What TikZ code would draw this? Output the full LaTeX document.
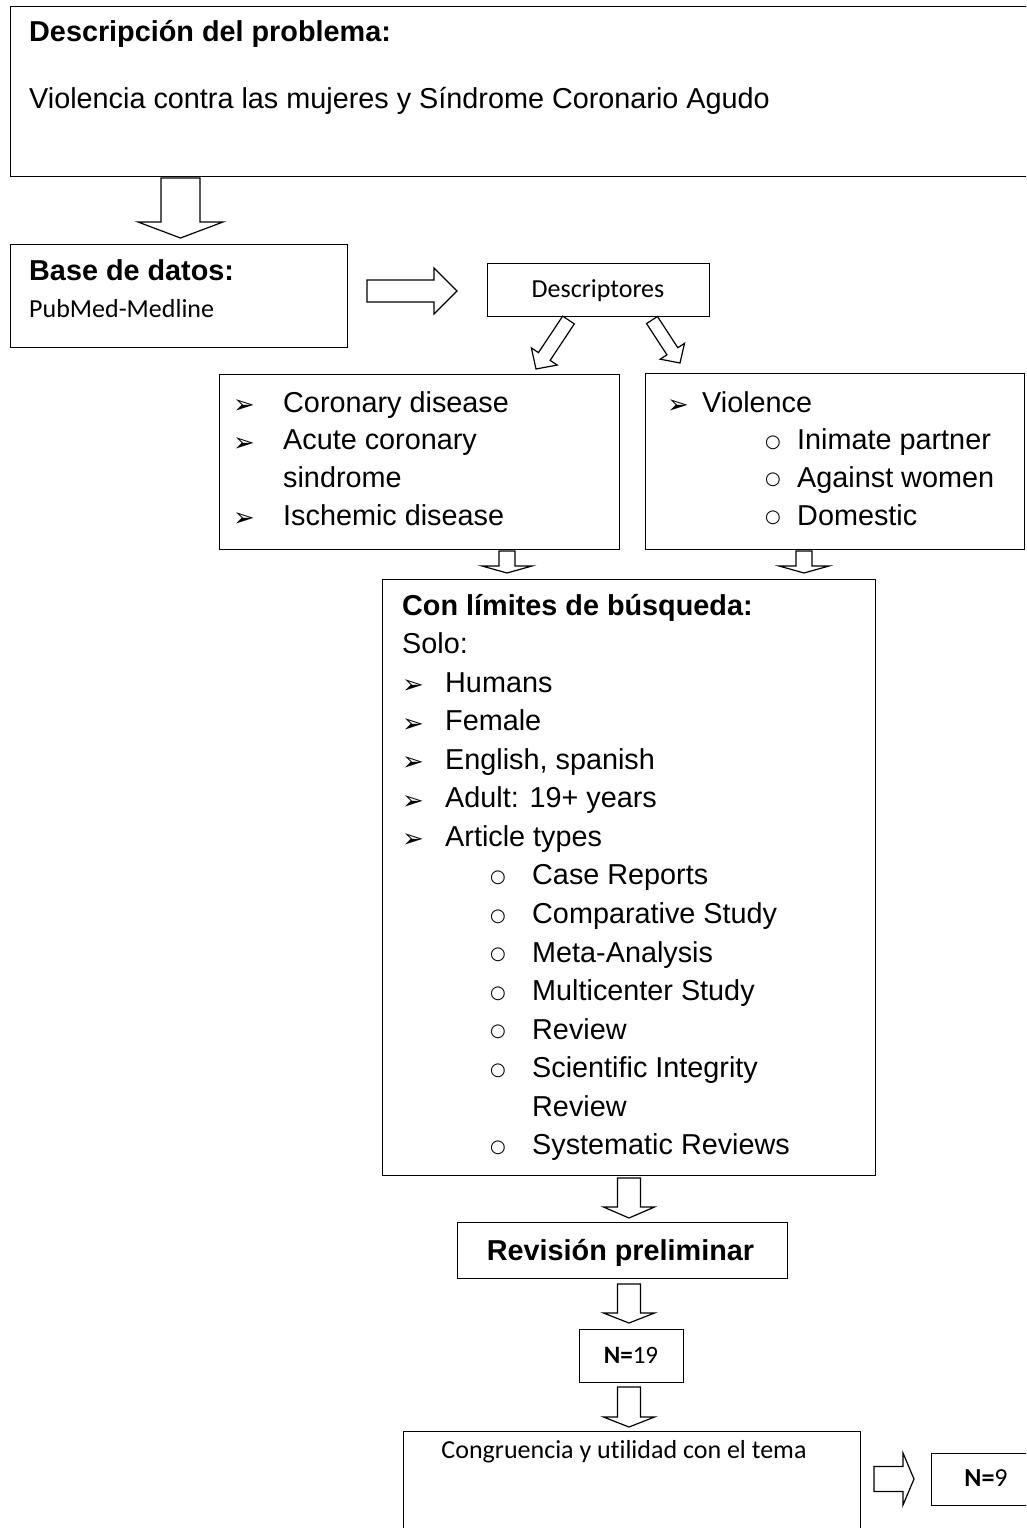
\documentclass[tikz,border=0pt]{standalone}
\usepackage{fontspec}
\setmainfont{Liberation Sans}
\newfontfamily\calibri[Ligatures=NoCommon]{Carlito}
\newfontfamily\dejavu{DejaVu Sans}
\usetikzlibrary{calc}

% viñetas
\newcommand{\flecha}{{\dejavu\fontsize{26}{26}\selectfont\raisebox{-1.5pt}{➢}}}
\newcommand{\circulo}{{\dejavu\fontsize{18}{18}\selectfont\raisebox{2.5pt}{○}}}

% flecha hueca: desde, hasta, medio ancho del tallo, medio ancho de la punta, largo de la punta
\newcommand{\bloque}[5]{%
  \path let \p1=(#1), \p2=(#2) in \pgfextra{%
    \pgfmathsetmacro\fang{atan2(\y2-\y1,\x2-\x1)}%
    \pgfmathsetmacro\flen{veclen(\x2-\x1,\y2-\y1)}%
    \xdef\bang{\fang}\xdef\blen{\flen}};
  \draw[borde, shift={(#1)}, rotate=\bang]
    (0pt,#3pt) -- (\blen pt-#5pt,#3pt) -- (\blen pt-#5pt,#4pt) -- (\blen pt,0pt)
    -- (\blen pt-#5pt,-#4pt) -- (\blen pt-#5pt,-#3pt) -- (0pt,-#3pt) -- cycle;
}

\tikzset{
  borde/.style={line width=1.2pt, draw=black},
  caja/.style={borde, anchor=north west, inner sep=0pt},
  txt/.style={anchor=base west, inner sep=0pt, font=\fontsize{28.8}{37.7}\selectfont},
  negrita/.style={txt, font=\bfseries\fontsize{28.8}{37.7}\selectfont},
  cal/.style={anchor=base, inner sep=0pt, font=\calibri\fontsize{26}{30}\selectfont},
}

\begin{document}
\begin{tikzpicture}[x=1pt, y=-1pt]
\useasboundingbox (0,0) rectangle (1026,1528);
\clip (0,0) rectangle (1026,1528);

% cajas
\node[caja, minimum width=1030pt, minimum height=170pt] (prob) at (10,6) {};
\node[caja, minimum width=337pt, minimum height=103pt] (base) at (10,244) {};
\node[caja, minimum width=222pt, minimum height=53pt] (desc) at (487,263) {};
\node[caja, minimum width=400pt, minimum height=175pt] (coron) at (219,374) {};
\node[caja, minimum width=379pt, minimum height=176pt] (viol) at (645,373) {};
\node[caja, minimum width=493pt, minimum height=596pt] (lim) at (382,579) {};
\node[caja, minimum width=330pt, minimum height=56pt] (rev) at (457,1222) {};
\node[caja, minimum width=104pt, minimum height=53pt] (n19) at (579,1329) {};
\node[caja, minimum width=457pt, minimum height=150pt] (cong) at (403,1431) {};
\node[caja, minimum width=116pt, minimum height=52pt] (n9) at (931,1453) {};

% textos
\node[negrita] (tprob) at (29,42) {Descripción del problema:};
\node[txt] (tviol) at (29,108) {Violencia contra las mujeres y Síndrome Coronario Agudo};
\node[negrita] (tbase) at (29,280) {Base de datos:};
\node[cal, anchor=base west] (tpub) at (29,317) {PubMed-Medline};
\node[cal] (tdesc) at (598,297) {Descriptores};

\node[txt] (lcoron) at (233,412) {\begin{tabular}[t]{@{}l@{}}
  \makebox[50pt][l]{\flecha}Coronary disease\\
  \makebox[50pt][l]{\flecha}Acute coronary\\
  \hspace*{50pt}sindrome\\
  \makebox[50pt][l]{\flecha}Ischemic disease
\end{tabular}};

\node[txt] (lviol) at (667,412) {\begin{tabular}[t]{@{}l@{}}
  \makebox[35pt][l]{\flecha}Violence\\
  \hspace*{98pt}\makebox[32pt][l]{\circulo}Inimate partner\\
  \hspace*{98pt}\makebox[32pt][l]{\circulo}Against women\\
  \hspace*{98pt}\makebox[32pt][l]{\circulo}Domestic
\end{tabular}};

\node[txt, font=\fontsize{28.8}{38.57}\selectfont] (llim) at (402,615) {\begin{tabular}[t]{@{}l@{}}
  \textbf{Con límites de búsqueda:}\\
  Solo:\\
  \makebox[43pt][l]{\flecha}Humans\\
  \makebox[43pt][l]{\flecha}Female\\
  \makebox[43pt][l]{\flecha}English, spanish\\
  \makebox[43pt][l]{\flecha}Adult: 19+ years\\
  \makebox[43pt][l]{\flecha}Article types\\
  \hspace*{88pt}\makebox[42pt][l]{\circulo}Case Reports\\
  \hspace*{88pt}\makebox[42pt][l]{\circulo}Comparative Study\\
  \hspace*{88pt}\makebox[42pt][l]{\circulo}Meta-Analysis\\
  \hspace*{88pt}\makebox[42pt][l]{\circulo}Multicenter Study\\
  \hspace*{88pt}\makebox[42pt][l]{\circulo}Review\\
  \hspace*{88pt}\makebox[42pt][l]{\circulo}Scientific Integrity\\
  \hspace*{130pt}Review\\
  \hspace*{88pt}\makebox[42pt][l]{\circulo}Systematic Reviews
\end{tabular}};

\node[negrita, anchor=base] (trev) at (620.5,1260) {Revisión preliminar};
\node[cal, font=\calibri\fontsize{25}{30}\selectfont] (tn19) at (631,1363) {\textbf{N=}19};
\node[cal, font=\calibri\fontsize{26}{30}\selectfont] (tcong) at (624,1458) {Congruencia y utilidad con el tema};
\node[cal, font=\calibri\fontsize{26}{30}\selectfont] (tn9) at (986,1486) {\textbf{N=}9};

% extremos de las flechas
\coordinate (a1) at (180.5,178);  \coordinate (b1) at (180.5,238);
\coordinate (a2) at (367,291);    \coordinate (b2) at (457,291);
\coordinate (a3) at (568.5,320);  \coordinate (b3) at (536,369);
\coordinate (a4) at (652,320);    \coordinate (b4) at (680,363);
\coordinate (a5) at (507,551);    \coordinate (b5) at (507,573);
\coordinate (a6) at (804,551);    \coordinate (b6) at (804,573);
\coordinate (a7) at (629,1178);   \coordinate (b7) at (629,1218);
\coordinate (a8) at (629,1284);   \coordinate (b8) at (629,1323);
\coordinate (a9) at (629,1387);   \coordinate (b9) at (629,1427);
\coordinate (a10) at (874,1479);  \coordinate (b10) at (914,1479);

% flechas
\bloque{a1}{b1}{19.5}{42.5}{16}
\bloque{a2}{b2}{11}{23}{23}
\bloque{a3}{b3}{7}{15.5}{15}
\bloque{a4}{b4}{6.5}{14.5}{14}
\bloque{a5}{b5}{8}{25}{7}
\bloque{a6}{b6}{8}{25}{7}
\bloque{a7}{b7}{11.5}{25.5}{11}
\bloque{a8}{b8}{11.5}{25.5}{10}
\bloque{a9}{b9}{11.5}{25.5}{10}
\bloque{a10}{b10}{12.5}{26}{11}
\end{tikzpicture}
\end{document}
